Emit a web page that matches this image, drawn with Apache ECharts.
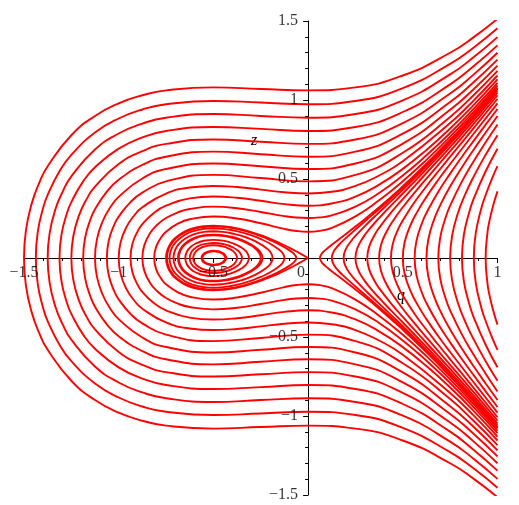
<!DOCTYPE html>
<html><head><meta charset="utf-8">
<script src="https://cdn.jsdelivr.net/npm/echarts/dist/echarts.min.js"></script>
<style>html,body{margin:0;padding:0;background:#fff}#c{width:519px;height:505px}</style>
</head><body><div id="c"></div>
<script>
// Tick labels
const xTickValues = [-1.5, -1, -0.5, 0, 0.5, 1];
const xTickLabels = ['\u22121.5', '\u22121', '\u22120.5', '0', '0.5', '1'];
const yTickValues = [-1.5, -1, -0.5, 0.5, 1, 1.5];
const yTickLabels = ['\u22121.5', '\u22121', '\u22120.5', '0.5', '1', '1.5'];
const axisNames = ['q', 'z'];

// Upper halves (z >= 0) of the orbits that wrap around the left side
const outerOrbits = [
  [[-1.5,0],[-1.49,0.173],[-1.46,0.341],[-1.42,0.474],[-1.375,0.581],[-1.25,0.777],[-1.125,0.899],[-1,0.979],[-0.875,1.030],[-0.75,1.061],[-0.5,1.080],[-0.25,1.070],[0,1.061],[0.25,1.080],[0.5,1.155],[0.75,1.299],[0.875,1.398],[1,1.514]],
  [[-1.4375,0],[-1.4275,0.164],[-1.3975,0.323],[-1.375,0.399],[-1.3125,0.549],[-1.25,0.653],[-1.125,0.794],[-1,0.883],[-0.875,0.940],[-0.75,0.973],[-0.5,0.994],[-0.25,0.984],[0,0.973],[0.25,0.994],[0.5,1.075],[0.75,1.229],[0.875,1.333],[1,1.454]],
  [[-1.375,0],[-1.365,0.154],[-1.335,0.305],[-1.295,0.422],[-1.25,0.517],[-1.125,0.687],[-1,0.788],[-0.875,0.851],[-0.75,0.888],[-0.5,0.911],[-0.25,0.899],[0,0.888],[0.25,0.911],[0.5,0.998],[0.75,1.162],[0.875,1.272],[1,1.398]],
  [[-1.3125,0],[-1.3025,0.145],[-1.2725,0.286],[-1.25,0.354],[-1.1875,0.485],[-1.125,0.574],[-1,0.692],[-0.875,0.763],[-0.75,0.804],[-0.5,0.829],[-0.25,0.817],[0,0.804],[0.25,0.829],[0.5,0.924],[0.75,1.099],[0.875,1.215],[1,1.346]],
  [[-1.25,0],[-1.24,0.136],[-1.21,0.268],[-1.17,0.371],[-1.125,0.452],[-1,0.595],[-0.875,0.676],[-0.75,0.722],[-0.5,0.750],[-0.25,0.736],[0,0.722],[0.25,0.750],[0.5,0.854],[0.75,1.041],[0.875,1.162],[1,1.299]],
  [[-1.1875,0],[-1.1775,0.127],[-1.1475,0.250],[-1.125,0.308],[-1.0625,0.420],[-1,0.495],[-0.875,0.589],[-0.75,0.641],[-0.5,0.673],[-0.25,0.657],[0,0.641],[0.25,0.673],[0.5,0.787],[0.75,0.987],[0.875,1.114],[1,1.256]],
  [[-1.125,0],[-1.115,0.118],[-1.085,0.231],[-1.045,0.319],[-1,0.387],[-0.875,0.503],[-0.75,0.563],[-0.5,0.598],[-0.25,0.581],[0,0.563],[0.25,0.598],[0.5,0.724],[0.75,0.938],[0.875,1.070],[1,1.218]],
  [[-1.0625,0],[-1.0525,0.109],[-1.0225,0.213],[-1,0.262],[-0.9375,0.354],[-0.875,0.414],[-0.75,0.485],[-0.5,0.526],[-0.25,0.506],[0,0.485],[0.25,0.526],[0.5,0.666],[0.75,0.893],[0.875,1.032],[1,1.184]],
  [[-1,0],[-0.99,0.099],[-0.96,0.194],[-0.92,0.266],[-0.875,0.321],[-0.75,0.408],[-0.625,0.446],[-0.5,0.456],[-0.375,0.449],[-0.25,0.433],[-0.125,0.416],[0,0.408],[0.125,0.419],[0.25,0.456],[0.375,0.522],[0.5,0.612],[0.75,0.854],[0.875,0.998],[1,1.155]],
  [[-0.9375,0],[-0.9275,0.090],[-0.8975,0.175],[-0.875,0.215],[-0.8125,0.287],[-0.75,0.331],[-0.625,0.377],[-0.5,0.389],[-0.375,0.381],[-0.25,0.362],[-0.125,0.341],[0,0.331],[0.125,0.345],[0.25,0.389],[0.375,0.464],[0.5,0.564],[0.625,0.684],[0.75,0.820],[0.875,0.969],[1,1.130]],
  [[-0.875,0],[-0.865,0.080],[-0.835,0.156],[-0.795,0.212],[-0.75,0.253],[-0.6875,0.289],[-0.625,0.310],[-0.5,0.325],[-0.375,0.315],[-0.25,0.291],[-0.125,0.265],[-0.0625,0.256],[0,0.253],[0.0625,0.257],[0.125,0.270],[0.25,0.325],[0.375,0.411],[0.5,0.522],[0.625,0.650],[0.75,0.791],[0.875,0.945],[1,1.109]],
  [[-0.8125,0],[-0.8025,0.070],[-0.7725,0.136],[-0.75,0.166],[-0.6875,0.217],[-0.625,0.245],[-0.5,0.263],[-0.375,0.250],[-0.25,0.220],[-0.125,0.184],[-0.0625,0.171],[0,0.166],[0.0625,0.172],[0.125,0.191],[0.25,0.263],[0.375,0.365],[0.5,0.486],[0.625,0.621],[0.75,0.768],[0.875,0.926],[1,1.093]]
];

// Upper halves of the orbits on the right of the saddle
const rightOrbits = [
  [[0.0625,0],[0.0725,0.028],[0.0825,0.041],[0.1025,0.062],[0.125,0.084],[0.1875,0.141],[0.25,0.199],[0.375,0.321],[0.5,0.454],[0.625,0.597],[0.75,0.749],[0.875,0.910],[1,1.079]],
  [[0.125,0],[0.135,0.041],[0.145,0.059],[0.165,0.087],[0.1875,0.113],[0.25,0.180],[0.3125,0.245],[0.375,0.310],[0.5,0.446],[0.625,0.591],[0.75,0.744],[0.875,0.906],[1,1.076]],
  [[0.1875,0],[0.1975,0.052],[0.2275,0.108],[0.25,0.140],[0.3125,0.217],[0.375,0.289],[0.4375,0.360],[0.5,0.432],[0.625,0.580],[0.75,0.735],[0.875,0.899],[1,1.070]],
  [[0.25,0],[0.26,0.062],[0.29,0.129],[0.33,0.192],[0.375,0.253],[0.4375,0.332],[0.5,0.408],[0.625,0.563],[0.75,0.722],[0.875,0.888],[1,1.061]],
  [[0.3125,0],[0.3225,0.072],[0.3525,0.149],[0.375,0.191],[0.4375,0.287],[0.5,0.373],[0.625,0.538],[0.75,0.702],[0.875,0.872],[1,1.048]],
  [[0.375,0],[0.385,0.082],[0.415,0.168],[0.455,0.247],[0.5,0.321],[0.5625,0.414],[0.625,0.503],[0.75,0.676],[0.875,0.851],[1,1.030]],
  [[0.4375,0],[0.4475,0.091],[0.4775,0.187],[0.5,0.238],[0.5625,0.354],[0.625,0.454],[0.6875,0.549],[0.75,0.641],[0.875,0.823],[1,1.008]],
  [[0.5,0],[0.51,0.101],[0.54,0.206],[0.58,0.300],[0.625,0.387],[0.6875,0.495],[0.75,0.595],[0.875,0.788],[1,0.979]],
  [[0.5625,0],[0.5725,0.110],[0.6025,0.225],[0.625,0.285],[0.6875,0.420],[0.75,0.534],[0.8125,0.641],[0.875,0.743],[0.9375,0.844],[1,0.943]],
  [[0.625,0],[0.635,0.119],[0.665,0.243],[0.705,0.352],[0.75,0.452],[0.8125,0.574],[0.875,0.687],[0.9375,0.794],[1,0.899]],
  [[0.6875,0],[0.6975,0.129],[0.7275,0.261],[0.75,0.331],[0.8125,0.485],[0.875,0.614],[0.9375,0.732],[1,0.845]],
  [[0.75,0],[0.76,0.138],[0.79,0.280],[0.83,0.404],[0.875,0.517],[0.9375,0.653],[1,0.777]],
  [[0.8125,0],[0.8225,0.147],[0.8525,0.298],[0.875,0.377],[0.9375,0.549],[1,0.692]],
  [[0.875,0],[0.885,0.156],[0.915,0.316],[0.9375,0.399],[0.975,0.514],[1,0.581]],
  [[0.9375,0],[0.9475,0.165],[0.9575,0.234],[0.9775,0.334],[1,0.422]]
];

// Upper halves of the closed orbits around the centre at q = -0.5
const closedOrbits = [
  [[-0.7452,0],[-0.7352,0.060],[-0.7152,0.100],[-0.7,0.121],[-0.65,0.162],[-0.6,0.185],[-0.55,0.196],[-0.5,0.200],[-0.45,0.197],[-0.4,0.189],[-0.35,0.176],[-0.3,0.159],[-0.25,0.138],[-0.2,0.113],[-0.15,0.085],[-0.1,0.050],[-0.0825,0.035],[-0.0725,0.024],[-0.0625,0]],
  [[-0.7318,0],[-0.7218,0.057],[-0.7,0.099],[-0.65,0.147],[-0.6,0.172],[-0.55,0.184],[-0.5,0.188],[-0.45,0.184],[-0.4,0.176],[-0.35,0.162],[-0.3,0.143],[-0.25,0.120],[-0.2,0.090],[-0.15,0.050],[-0.135,0.031],[-0.125,0]],
  [[-0.7109,0],[-0.7,0.056],[-0.6809,0.090],[-0.65,0.122],[-0.6,0.151],[-0.55,0.165],[-0.5,0.169],[-0.45,0.165],[-0.4,0.155],[-0.35,0.140],[-0.3,0.118],[-0.25,0.087],[-0.225,0.067],[-0.2,0.039],[-0.1875,0]],
  [[-0.6875,0],[-0.6775,0.050],[-0.65,0.092],[-0.6,0.128],[-0.55,0.144],[-0.5,0.148],[-0.45,0.144],[-0.4,0.133],[-0.35,0.114],[-0.3,0.085],[-0.2709,0.061],[-0.2509,0.035],[-0.2409,0]],
  [[-0.683,0],[-0.673,0.049],[-0.65,0.086],[-0.6,0.123],[-0.55,0.140],[-0.5,0.144],[-0.45,0.140],[-0.4,0.128],[-0.35,0.109],[-0.3,0.079],[-0.28,0.061],[-0.26,0.035],[-0.25,0]],
  [[-0.6484,0],[-0.6384,0.043],[-0.6184,0.071],[-0.6,0.087],[-0.55,0.109],[-0.5,0.115],[-0.45,0.110],[-0.4,0.094],[-0.35,0.065],[-0.3375,0.053],[-0.3225,0.034],[-0.3125,0]],
  [[-0.625,0],[-0.615,0.039],[-0.6,0.059],[-0.575,0.078],[-0.55,0.088],[-0.5,0.095],[-0.45,0.089],[-0.425,0.081],[-0.4,0.069],[-0.375,0.051],[-0.359,0.032],[-0.349,0]],
  [[-0.6068,0],[-0.5968,0.035],[-0.5768,0.057],[-0.55,0.072],[-0.525,0.079],[-0.5,0.081],[-0.475,0.079],[-0.45,0.073],[-0.425,0.063],[-0.4,0.047],[-0.385,0.030],[-0.375,0]],
  [[-0.5625,0],[-0.5585,0.017],[-0.55,0.028],[-0.525,0.042],[-0.5,0.046],[-0.475,0.043],[-0.45,0.031],[-0.44,0.021],[-0.4318,0]],
  [[-0.5577,0],[-0.55,0.021],[-0.525,0.038],[-0.5,0.042],[-0.475,0.039],[-0.45,0.025],[-0.4425,0.016],[-0.4375,0]]
];

// Upper half of the separatrix loop (ends at the saddle at the origin)
const separatrix = [[-0.75,0],[-0.74,0.060],[-0.72,0.102],[-0.7,0.128],[-0.65,0.168],[-0.6,0.190],[-0.55,0.201],[-0.5,0.204],[-0.45,0.201],[-0.4,0.193],[-0.35,0.181],[-0.3,0.164],[-0.25,0.144],[-0.2,0.121],[-0.15,0.095],[-0.1,0.066],[-0.05,0.034],[0,0]];

function mirror(p) { return [p[0], -p[1]]; }
function openPath(U) { return U.slice(1).reverse().map(mirror).concat(U); }
function loopPath(U) {
  let m = 0;
  U.forEach((p, i) => { if (p[1] > U[m][1]) m = i; });
  const n = U.length;
  return U.slice(m).concat(U.slice(0, n - 1).reverse().map(mirror)).concat(U.slice(1, m + 1));
}
function cuspPath(U) { return U.slice().reverse().concat(U.slice(1).map(mirror)); }

const RED = '#ff0000';
function lineSeries(data) {
  return {
    type: 'line', data: data, smooth: 0.5, symbol: 'none', silent: true,
    lineStyle: { color: RED, width: 1.9 }, clip: true, animation: false
  };
}

const series = [];
outerOrbits.forEach(U => series.push(lineSeries(openPath(U))));
rightOrbits.forEach(U => series.push(lineSeries(openPath(U))));
closedOrbits.forEach(U => series.push(lineSeries(loopPath(U))));
series.push(lineSeries(cuspPath(separatrix)));

const FONT = 'Liberation Serif';
const FS = 16;
// Tick labels drawn at the axis crossing (the axes pass through the origin)
series.push({
  type: 'scatter', symbolSize: 0, silent: true, clip: false, z: 5,
  data: xTickValues.map((v, i) => ({
    value: [v, 0],
    label: { show: true, position: 'bottom', distance: 7, formatter: xTickLabels[i],
      fontFamily: FONT, fontSize: FS, color: '#000', offset: v === 0 ? [-7, 0] : [0, 0] }
  }))
});
series.push({
  type: 'scatter', symbolSize: 0, silent: true, clip: false, z: 5,
  data: yTickValues.map((v, i) => ({
    value: [0, v],
    label: { show: true, position: 'left', distance: 10, formatter: yTickLabels[i],
      fontFamily: FONT, fontSize: FS, color: '#000' }
  }))
});

const chart = echarts.init(document.getElementById('c'), null, { renderer: 'canvas' });
const axisCommon = {
  axisLine: { show: true, onZero: true, lineStyle: { color: '#000', width: 1 } },
  axisTick: { show: true, length: 5, lineStyle: { color: '#000' } },
  minorTick: { show: true, splitNumber: 5, length: 3, lineStyle: { color: '#000' } },
  splitLine: { show: false }, minorSplitLine: { show: false },
  axisLabel: { show: false }
};
chart.setOption({
  animation: false,
  backgroundColor: '#fff',
  grid: { left: 24, right: 21.5, top: 21, bottom: 10, containLabel: false, outerBoundsMode: 'none' },
  xAxis: Object.assign({ type: 'value', min: -1.5, max: 1, interval: 0.5 }, axisCommon),
  yAxis: Object.assign({ type: 'value', min: -1.5, max: 1.5, interval: 0.5 }, axisCommon),
  graphic: [
    { type: 'text', left: 397, top: 288, style: { text: axisNames[0], font: 'italic 16px "Liberation Serif"', fill: '#000' } },
    { type: 'text', left: 251, top: 133, style: { text: axisNames[1], font: 'italic 16px "Liberation Serif"', fill: '#000' } }
  ],
  series: series
});
</script>
</body></html>
